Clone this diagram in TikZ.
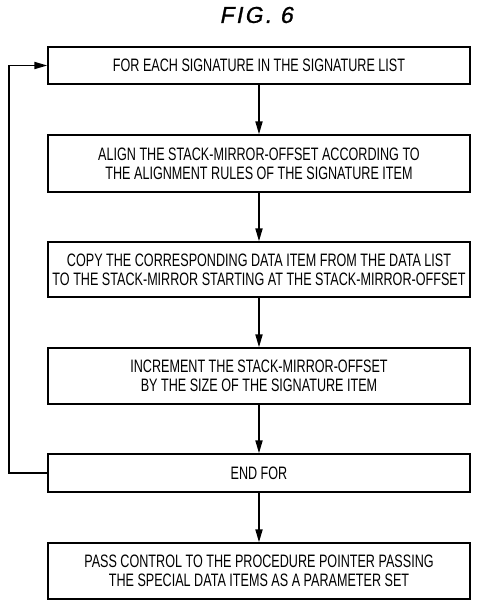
\documentclass[tikz,border=0pt]{standalone}
\usepackage{fontspec}
\setmainfont{Liberation Sans}[FakeStretch=0.70]
\newfontfamily\titlefont{Liberation Sans}[FakeSlant=0.2,LetterSpace=10,FakeBold=1]
\usetikzlibrary{arrows.meta}
\begin{document}
\begin{tikzpicture}[x=1pt,y=-1pt,
  box/.style={draw,line width=1.3pt,minimum width=422pt,inner sep=2pt,align=center,
    font=\fontsize{18}{19}\selectfont},
  arr/.style={line width=1.8pt,-{Triangle[length=13pt,width=7pt]}}]
\useasboundingbox (0,0) rectangle (477,606);
\node[font=\titlefont\fontsize{23}{26}\selectfont] (title) at (256,15) {FIG. 6};
\node[box,minimum height=37pt] (b1) at (259,65.5) {FOR EACH SIGNATURE IN THE SIGNATURE LIST};
\node[box,minimum height=57pt] (b2) at (259,163.5) {ALIGN THE STACK-MIRROR-OFFSET ACCORDING TO\\THE ALIGNMENT RULES OF THE SIGNATURE ITEM};
\node[box,minimum height=55pt] (b3) at (259,269.5) {COPY THE CORRESPONDING DATA ITEM FROM THE DATA LIST\\TO THE STACK-MIRROR STARTING AT THE STACK-MIRROR-OFFSET};
\node[box,minimum height=56pt] (b4) at (259,376) {INCREMENT THE STACK-MIRROR-OFFSET\\BY THE SIZE OF THE SIGNATURE ITEM};
\node[box,minimum height=38pt] (b5) at (259,473) {END FOR};
\node[box,minimum height=56pt] (b6) at (259,571) {PASS CONTROL TO THE PROCEDURE POINTER PASSING\\THE SPECIAL DATA ITEMS AS A PARAMETER SET};
\draw[arr] (b1) -- (b2);
\draw[arr] (b2) -- (b3);
\draw[arr] (b3) -- (b4);
\draw[arr] (b4) -- (b5);
\draw[arr] (b5) -- (b6);
\draw[arr] (b5.west) -- ++(-38,0) |- (b1.west);
\end{tikzpicture}
\end{document}
